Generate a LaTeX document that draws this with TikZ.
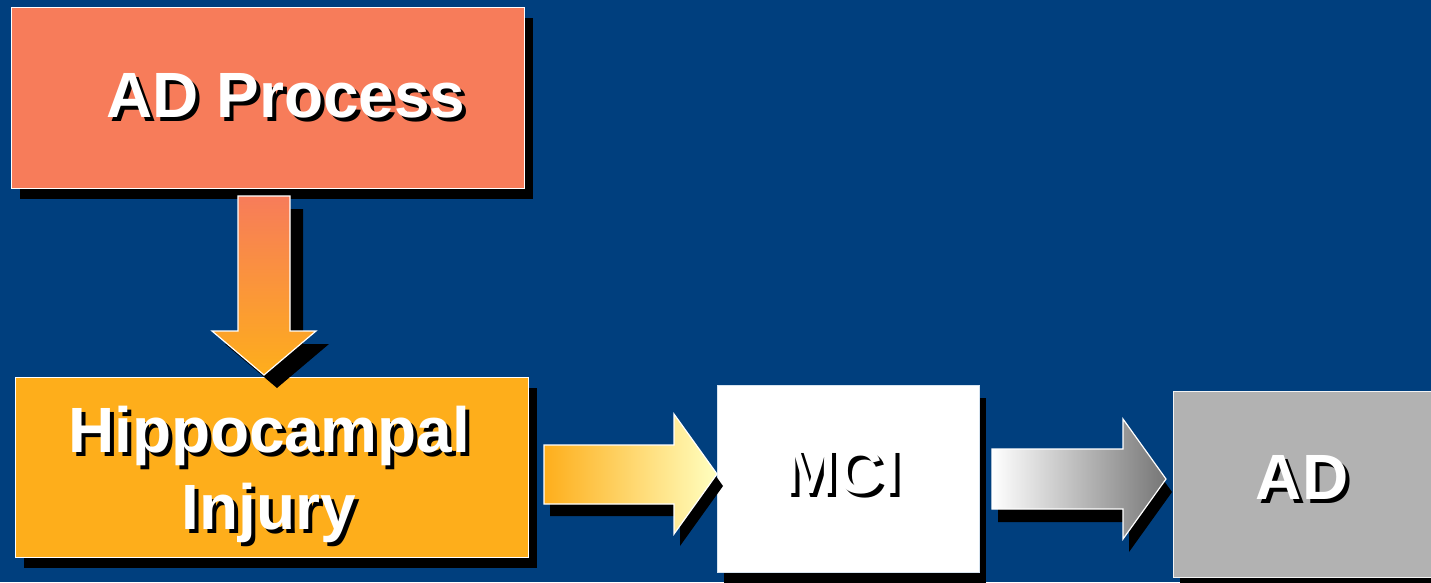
\documentclass[tikz,border=0pt]{standalone}
\usepackage{fontspec}
\setmainfont{Liberation Sans}
\usetikzlibrary{shadows}

\definecolor{bgblue}{RGB}{0,63,126}
\definecolor{salmon}{RGB}{247,124,90}
\definecolor{amber}{RGB}{254,174,27}
\definecolor{paleyellow}{RGB}{255,255,192}
\definecolor{boxgray}{RGB}{178,178,178}
\definecolor{arrowgray}{RGB}{118,118,118}
\definecolor{rimblue}{RGB}{215,228,240}

% white lettering with a hard black shadow offset down and to the right
\newcommand\shadowed[1]{\leavevmode\rlap{\kern4pt\raisebox{-4pt}{\color{black}#1}}{\color{white}#1}}

\begin{document}
\begin{tikzpicture}[x=1pt,y=-1pt,
  panel/.style={draw=white, line width=1.2pt, inner sep=0pt, anchor=north west},
  hardshadow/.style 2 args={drop shadow={shadow xshift=#1pt, shadow yshift=-#2pt, fill=black, opacity=1}},
  blockarrow/.style={draw=white, line width=1.2pt},
  boxtext/.style={font=\bfseries\fontsize{64}{77}\selectfont, inner sep=0pt, anchor=base}]

% slide background
\useasboundingbox (0,0) rectangle (1431,582);
\fill[bgblue] (0,0) rectangle (1431,582);

% boxes
\node[panel, hardshadow={8}{10}, fill=salmon, minimum width=513pt, minimum height=181pt] (proc) at (11,7) {};
\node[panel, hardshadow={8}{10}, fill=amber, minimum width=513pt, minimum height=180pt] (hip) at (15,377) {};
\node[panel, hardshadow={6}{12}, fill=white, draw=rimblue, minimum width=262pt, minimum height=187pt] (mci) at (717,385) {};
\node[panel, hardshadow={6}{12}, fill=boxgray, draw=white!85!boxgray, minimum width=270pt, minimum height=186pt] (ad) at (1173,391) {};

% block arrows between the boxes
\shade[blockarrow, hardshadow={13}{13}, top color=salmon, bottom color=amber]
  (238,196) -- (290,196) -- (290,331) -- (316,331) -- (264,375) -- (212,331) -- (238,331) -- cycle;
\shade[blockarrow, hardshadow={6}{12}, left color=amber, right color=paleyellow]
  (544,445) -- (674,445) -- (674,414) -- (717,474) -- (674,534) -- (674,504) -- (544,504) -- cycle;
\shade[blockarrow, hardshadow={6}{13}, left color=white, right color=arrowgray]
  (992,449) -- (1123,449) -- (1123,419) -- (1166,479) -- (1123,539) -- (1123,509) -- (992,509) -- cycle;

% box labels
\node[boxtext] (procT) at (286,117) {\shadowed{AD Process}};
\node[boxtext] (hipT1) at (269,452) {\shadowed{Hippocampal}};
\node[boxtext] (hipT2) at (269,529) {\shadowed{Injury}};
\node[boxtext] (mciT) at (842,493) {\shadowed{MCI}};
\node[boxtext] (adT) at (1302,499) {\shadowed{AD}};
\end{tikzpicture}
\end{document}
